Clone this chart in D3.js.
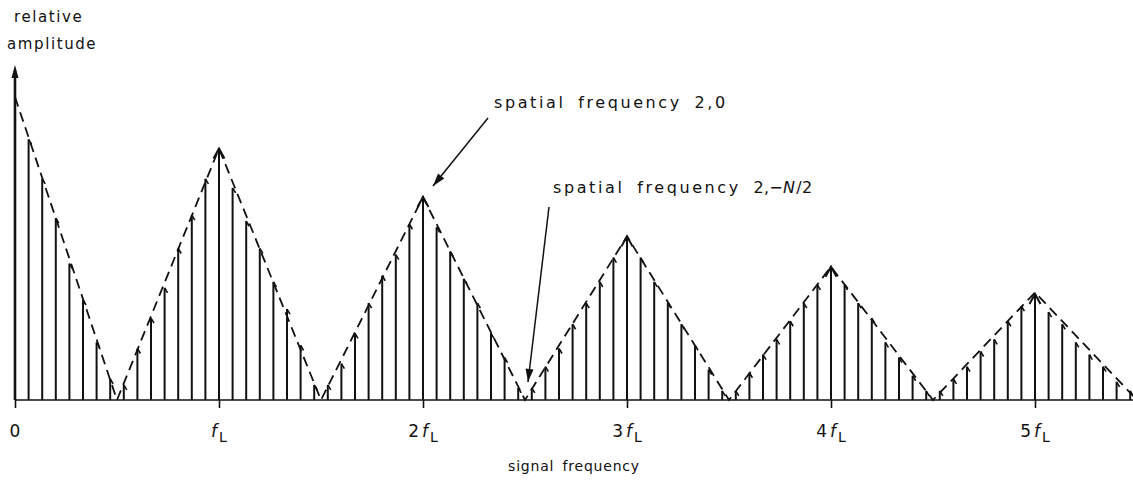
<!DOCTYPE html>
<html><head><meta charset="utf-8">
<script src="https://cdn.jsdelivr.net/npm/d3@7"></script>
<style>
html,body{margin:0;padding:0;background:#fff;}
svg{display:block;}
text{font-family:"DejaVu Sans",sans-serif;fill:#111;}
</style></head>
<body>
<svg id="c" width="1133" height="481"></svg>
<script>
// sample amplitudes at spacing fL/15 (index n -> frequency n/15 fL)
const sampleStep = 1/15;
const amplitudes = [
 1.00,0.86,0.73,0.60,0.45,0.33,0.19,0.07,0.05,0.17,0.27,0.37,0.50,0.61,0.73,
 0.83,0.70,0.59,0.50,0.39,0.30,0.18,0.05,0.05,0.12,0.22,0.32,0.41,0.48,0.58,
 0.67,0.57,0.49,0.40,0.32,0.22,0.14,0.04,0.04,0.11,0.17,0.25,0.32,0.39,0.47,
 0.54,0.47,0.39,0.32,0.25,0.18,0.10,0.03,0.03,0.09,0.15,0.20,0.26,0.32,0.38,
 0.44,0.38,0.32,0.27,0.19,0.14,0.08,0.03,0.03,0.07,0.11,0.16,0.20,0.26,0.31,
 0.35,0.29,0.25,0.19,0.15,0.11,0.06,0.03
];
// dashed envelope vertices
const envFreq = [0,0.5,1,1.5,2,2.5,3,3.5,4,4.5,5,5.5];
const envAmp  = [1.00,0,0.83,0,0.67,0,0.54,0,0.44,0,0.355,0];
// tick labels (multiples of fL)
const tickValues = [0,1,2,3,4,5];
const tickCoef   = ["0","","2","3","4","5"];
const axisTop = 1.106;

const svg = d3.select("#c");
const x = d3.scaleLinear().domain([0,5]).range([15,1035]);
const y = d3.scaleLinear().domain([0,1]).range([400,97]);

svg.append("defs").append("clipPath").attr("id","clip")
  .append("rect").attr("x",0).attr("y",0).attr("width",1133).attr("height",481);

const g = svg.append("g").attr("clip-path","url(#clip)");

// baseline
g.append("line").attr("x1",x(0)).attr("x2",1133).attr("y1",y(0)).attr("y2",y(0))
  .attr("stroke","#111").attr("stroke-width",1.5);

// axis with ticks (no default labels)
const xAxis = d3.axisBottom(x).tickValues(tickValues).tickSize(8).tickFormat("");
const ax = g.append("g").attr("transform",`translate(0,${y(0)})`).call(xAxis);
ax.select(".domain").remove();
ax.selectAll(".tick line").attr("stroke","#111").attr("stroke-width",1.6);

// sample lines
const data = amplitudes.map((a,i)=>({f:i*sampleStep,a,i}));
g.selectAll("line.s").data(data.filter(d=>d.i>0)).join("line").attr("class","s")
  .attr("x1",d=>x(d.f)).attr("x2",d=>x(d.f))
  .attr("y1",y(0)).attr("y2",d=>y(d.a))
  .attr("stroke","#111").attr("stroke-width",2);

// peak arrowheads (open chevrons)
g.selectAll("path.pk").data(data.filter(d=>d.i>0 && d.i%15===0)).join("path").attr("class","pk")
  .attr("d",d=>{const px=x(d.f), py=y(d.a); return `M${px-5.5},${py+10}L${px},${py}L${px+5.5},${py+10}`;})
  .attr("fill","none").attr("stroke","#111").attr("stroke-width",2);

// small hooks on top of other lines
g.selectAll("path.hk").data(data.filter(d=>d.i>0 && d.i%15!==0)).join("path").attr("class","hk")
  .attr("d",d=>{const px=x(d.f), py=y(d.a); return `M${px},${py}L${px+3},${py+5}`;})
  .attr("fill","none").attr("stroke","#111").attr("stroke-width",1.6);

// envelope dashed line
const env = envFreq.map((f,i)=>({f,a:envAmp[i]}));
g.append("path").datum(env)
  .attr("d",d3.line().x(d=>x(d.f)).y(d=>y(d.a)))
  .attr("fill","none").attr("stroke","#111").attr("stroke-width",1.8)
  .attr("stroke-dasharray","10,6");

// vertical axis with filled arrow
g.append("line").attr("x1",x(0)).attr("x2",x(0)).attr("y1",y(0)).attr("y2",y(axisTop)+6)
  .attr("stroke","#111").attr("stroke-width",2.6);
g.append("path").attr("d",`M${x(0)-3.5},${y(axisTop)+13}L${x(0)},${y(axisTop)}L${x(0)+3.5},${y(axisTop)+13}Z`)
  .attr("fill","#111");

// axis labels
svg.append("text").attr("x",14).attr("y",22).attr("font-size",15).attr("letter-spacing",1.6).text("relative");
svg.append("text").attr("x",7).attr("y",49).attr("font-size",15).attr("letter-spacing",1.6).text("amplitude");

// tick labels
const tl = svg.selectAll("text.tl").data(tickValues).join("text").attr("class","tl")
  .attr("font-size",17).attr("y",437).attr("x",d=>x(d)).attr("text-anchor","middle");
tl.each(function(d,i){
  const t=d3.select(this);
  if(d===0){ t.text("0"); return; }
  if(tickCoef[i]) t.append("tspan").text(tickCoef[i]).attr("dx",0);
  t.append("tspan").text("f").attr("font-style","italic").attr("dx",tickCoef[i]?3:0);
  t.append("tspan").text("L").attr("font-size",14).attr("dy",5).attr("dx",2);
});

svg.append("text").attr("x",574).attr("y",471).attr("text-anchor","middle")
  .attr("font-size",14).attr("letter-spacing",0.8).attr("word-spacing",3).text("signal frequency");

// annotations
const ann = svg.append("g");
ann.append("text").attr("x",494).attr("y",108).attr("font-size",16).attr("letter-spacing",2.6)
  .attr("word-spacing",5).text("spatial frequency 2,0");
const t2 = ann.append("text").attr("x",553).attr("y",193).attr("font-size",16).attr("letter-spacing",2.6)
  .attr("word-spacing",5);
t2.append("tspan").text("spatial frequency ");
t2.append("tspan").text("2,−").attr("letter-spacing",0.3);
t2.append("tspan").text("N").attr("font-style","italic").attr("letter-spacing",0.3);
t2.append("tspan").text("/2").attr("letter-spacing",0.3).attr("dx",1);

function arrow(x1,y1,x2,y2){
  ann.append("line").attr("x1",x1).attr("y1",y1).attr("x2",x2).attr("y2",y2)
    .attr("stroke","#111").attr("stroke-width",1.5);
  const ang=Math.atan2(y2-y1,x2-x1), L=13, W=4;
  const bx=x2-L*Math.cos(ang), by=y2-L*Math.sin(ang);
  const nx=-Math.sin(ang)*W, ny=Math.cos(ang)*W;
  ann.append("path").attr("d",`M${x2},${y2}L${bx+nx},${by+ny}L${bx-nx},${by-ny}Z`).attr("fill","#111");
}
arrow(488,118,433,186);
arrow(549,207,528,382);
</script>
</body></html>
